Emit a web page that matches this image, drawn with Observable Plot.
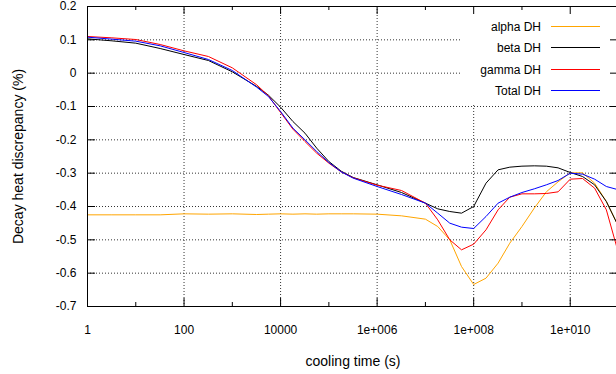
<!DOCTYPE html>
<html><head><meta charset="utf-8">
<script src="https://cdn.jsdelivr.net/npm/d3@7"></script>
<script src="https://cdn.jsdelivr.net/npm/@observablehq/plot@0.6"></script>
<style>html,body{margin:0;padding:0;overflow:hidden;background:#fff;width:616px;height:374px}
#chart svg{max-width:none !important;display:block}</style>
</head><body><div id="chart"></div>
<script>
// cooling time (s)
const times = [1, 3.2, 10, 32, 100, 320, 1e3, 3.2e3, 5.6e3, 1e4, 1.8e4, 3.2e4, 5.6e4, 1e5, 1.8e5, 3.2e5,
  1e6, 3.2e6, 1e7, 1.8e7, 3.2e7, 5.6e7, 1e8, 1.8e8, 3.2e8, 5.6e8, 1e9, 1.8e9, 3.2e9, 5.6e9,
  1e10, 1.8e10, 3.2e10, 5.6e10, 1e11];
const alphaDH = [-0.425, -0.425, -0.425, -0.425, -0.422, -0.423, -0.422, -0.424, -0.423, -0.422, -0.423, -0.422, -0.423, -0.422, -0.422, -0.422,
  -0.423, -0.428, -0.438, -0.46, -0.5, -0.58, -0.634, -0.615, -0.57, -0.51, -0.46, -0.405, -0.356, -0.326,
  -0.299, -0.299, -0.33, -0.385, -0.46];
const betaDH = [0.103, 0.097, 0.09, 0.074, 0.056, 0.038, 0.004, -0.04, -0.066, -0.102, -0.145, -0.18, -0.225, -0.265, -0.294, -0.313,
  -0.335, -0.358, -0.39, -0.407, -0.415, -0.42, -0.4, -0.33, -0.29, -0.282, -0.279, -0.278, -0.279, -0.284,
  -0.298, -0.31, -0.335, -0.385, -0.46];
const gammaDH = [0.11, 0.106, 0.101, 0.086, 0.067, 0.05, 0.016, -0.035, -0.068, -0.118, -0.168, -0.205, -0.24, -0.27, -0.296, -0.314,
  -0.336, -0.352, -0.39, -0.44, -0.5, -0.53, -0.513, -0.47, -0.41, -0.372, -0.362, -0.362, -0.361, -0.356,
  -0.318, -0.316, -0.345, -0.41, -0.54];
const totalDH = [0.108, 0.102, 0.096, 0.082, 0.062, 0.041, 0.008, -0.042, -0.07, -0.115, -0.165, -0.2, -0.235, -0.268, -0.296, -0.315,
  -0.34, -0.364, -0.39, -0.42, -0.45, -0.462, -0.466, -0.43, -0.39, -0.372, -0.358, -0.347, -0.335, -0.322,
  -0.3, -0.303, -0.318, -0.34, -0.35];

const seriesNames = ["alpha DH", "beta DH", "gamma DH", "Total DH"];
const seriesColors = ["#ffa500", "#000000", "#ff0000", "#0000ff"];
const seriesValues = [alphaDH, betaDH, gammaDH, totalDH];

const xMajorTicks = [1, 100, 1e4, 1e6, 1e8, 1e10];
const xMajorLabels = ["1", "100", "10000", "1e+006", "1e+008", "1e+010"];
const xMinorTicks = [10, 1e3, 1e5, 1e7, 1e9];
const xGrid = [100, 1e4, 1e6, 1e8, 1e10];
const yTicks = [0.2, 0.1, 0, -0.1, -0.2, -0.3, -0.4, -0.5, -0.6, -0.7];
const yLabels = ["0.2", "0.1", "0", "-0.1", "-0.2", "-0.3", "-0.4", "-0.5", "-0.6", "-0.7"];
const yGrid = [0.1, 0, -0.1, -0.2, -0.3, -0.4, -0.5, -0.6];
const xTitle = "cooling time (s)";
const yTitle = "Decay heat discrepancy (%)";

const rows = seriesNames.flatMap((name, s) => times.map((t, i) => ({t, v: seriesValues[s][i], name})));

const W = 640, H = 374, mL = 87, mR = 22, mT = 6, mB = 68;
const plotW = W - mL - mR, plotH = H - mT - mB;
const font = "'Liberation Sans', Arial, sans-serif";

function legendMark(index, scales, values, dims) {
  const right = dims.width - dims.marginRight;
  const top = dims.marginTop;
  const g = d3.create("svg:g");
  g.append("rect").attr("x", right - 158).attr("y", top + 1).attr("width", 158).attr("height", 97).attr("fill", "white");
  seriesNames.forEach((n, i) => {
    const y = Math.round(top + 19.5 + i * 21.5) + 0.5;
    g.append("text").attr("x", right - 77).attr("y", y).attr("dy", "0.35em")
      .attr("text-anchor", "end").attr("font-size", 12).attr("fill", "#000").text(n);
    g.append("line").attr("x1", right - 67).attr("x2", right - 18).attr("y1", y).attr("y2", y)
      .attr("stroke", seriesColors[i]).attr("stroke-width", 1);
  });
  return g.node();
}

const chart = Plot.plot({
  width: W, height: H,
  marginLeft: mL, marginRight: mR, marginTop: mT, marginBottom: mB,
  x: {type: "log", domain: [1, 1e11], axis: null},
  y: {domain: [-0.7, 0.2], axis: null},
  color: {domain: seriesNames, range: seriesColors},
  style: {fontFamily: font, fontSize: "12px", background: "white", color: "#000", maxWidth: "none"},
  marks: [
    Plot.ruleX(xGrid, {x: d => d, stroke: "#333", strokeDasharray: "1,2"}),
    Plot.ruleY(yGrid, {y: d => d, stroke: "#333", strokeDasharray: "1,2"}),
    legendMark,
    Plot.line(rows, {x: "t", y: "v", z: "name", stroke: "name", strokeWidth: 1}),
    Plot.tickX(xMajorTicks, {x: d => d, insetTop: plotH - 8, stroke: "#000"}),
    Plot.tickX(xMajorTicks, {x: d => d, insetBottom: plotH - 8, stroke: "#000"}),
    Plot.tickX(xMinorTicks, {x: d => d, insetTop: plotH - 4, stroke: "#000"}),
    Plot.tickX(xMinorTicks, {x: d => d, insetBottom: plotH - 4, stroke: "#000"}),
    Plot.tickY(yTicks, {y: d => d, insetRight: plotW - 8, stroke: "#000"}),
    Plot.tickY(yTicks, {y: d => d, insetLeft: plotW - 8, stroke: "#000"}),
    Plot.frame({stroke: "#000"}),
    Plot.text(xMajorTicks, {x: d => d, text: (d, i) => xMajorLabels[i], frameAnchor: "bottom", dy: 24, textAnchor: "middle", lineAnchor: "middle", fontSize: 12, fill: "#000"}),
    Plot.text(yTicks, {y: d => d, text: (d, i) => yLabels[i], frameAnchor: "left", dx: -11, textAnchor: "end", lineAnchor: "middle", fontSize: 12, fill: "#000"}),
    Plot.text([xTitle], {text: d => d, frameAnchor: "bottom", dy: 55, textAnchor: "middle", lineAnchor: "middle", fontSize: 14, fill: "#000"}),
    Plot.text([yTitle], {text: d => d, frameAnchor: "left", dx: -69, rotate: -90, textAnchor: "middle", lineAnchor: "middle", fontSize: 14, fill: "#000"})
  ]
});
document.getElementById("chart").appendChild(chart);
</script>
</body></html>
